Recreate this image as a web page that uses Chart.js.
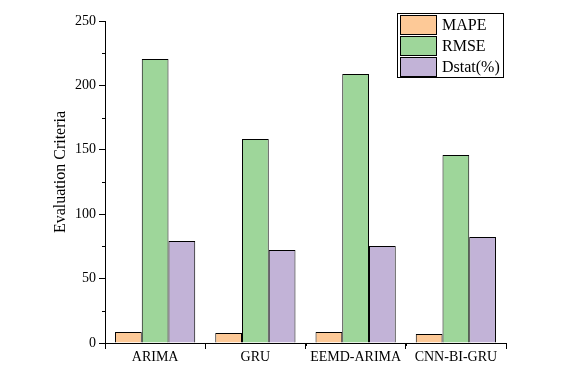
<!DOCTYPE html>
<html>
<head>
<meta charset="utf-8">
<script src="https://cdn.jsdelivr.net/npm/chart.js@4"></script>
<style>
  html, body { margin: 0; padding: 0; background: #fff; }
  #wrap { width: 588px; height: 378px; }
</style>
</head>
<body>
<div id="wrap"><canvas id="plot" width="588" height="378"></canvas></div>
<script>
const models = ['ARIMA', 'GRU', 'EEMD-ARIMA', 'CNN-BI-GRU'];
const mape = [8.5, 7.8, 8.5, 7.0];
const rmse = [220.5, 158.4, 208.8, 146.0];
const dstat = [79.2, 72.2, 75.3, 82.3];
const seriesNames = ['MAPE', 'RMSE', 'Dstat(%)'];
const yTicks = [0, 50, 100, 150, 200, 250];

const colors = ['#fdc997', '#9ed69a', '#c2b3d7'];
const serif = "'Liberation Serif', 'Times New Roman', serif";

// minor ticks, axis title and boxed legend (Origin style)
const extras = {
  id: 'extras',
  afterDraw(chart) {
    const c = chart.ctx;
    const y = chart.scales.y;
    const area = chart.chartArea;
    c.save();
    c.strokeStyle = '#000';
    c.lineWidth = 1;
    c.beginPath();
    for (let v = 25; v < 250; v += 50) {
      const py = Math.round(y.getPixelForValue(v)) + 0.5;
      c.moveTo(area.left - 3, py);
      c.lineTo(area.left, py);
    }
    for (let i = 0; i <= models.length; i++) {
      const px = Math.round(area.left + (area.right - area.left) * i / models.length) + 0.5;
      c.moveTo(px, area.bottom);
      c.lineTo(px, area.bottom + 3);
    }
    c.stroke();

    // y title
    c.fillStyle = '#000';
    c.font = '16px ' + serif;
    c.textAlign = 'center';
    c.textBaseline = 'middle';
    c.translate(61, 172);
    c.rotate(-Math.PI / 2);
    c.fillText('Evaluation Criteria', 0, 0);
    c.restore();

    // legend
    c.save();
    c.strokeStyle = '#000';
    c.lineWidth = 1;
    c.strokeRect(397.5, 13.5, 106, 64);
    c.font = '16px ' + serif;
    c.textBaseline = 'alphabetic';
    c.textAlign = 'left';
    chart.data.datasets.forEach((ds, i) => {
      const top = 15 + i * 21;
      c.fillStyle = ds.backgroundColor;
      c.fillRect(400, top, 36, 19);
      c.strokeRect(400.5, top + 0.5, 36, 19);
      c.fillStyle = '#000';
      c.fillText(ds.label, 442, top + 15);
    });
    c.restore();
  }
};

const data = {
  labels: models,
  datasets: [mape, rmse, dstat].map((vals, i) => ({
    label: seriesNames[i],
    data: vals,
    backgroundColor: colors[i],
    borderColor: '#000',
    borderWidth: 1,
    categoryPercentage: 0.8,
    barPercentage: 1.0
  }))
};

const config = {
  type: 'bar',
  data: data,
  options: {
    responsive: false,
    animation: false,
    layout: { padding: { top: 21, right: 82, left: 0, bottom: 0 } },
    scales: {
      x: {
        grid: { display: true, drawOnChartArea: false, drawTicks: true, tickLength: 6, color: '#000' },
        border: { display: true, color: '#000', width: 1 },
        ticks: { color: '#000', font: { family: serif, size: 14 }, padding: 0, maxRotation: 0 },
        afterFit: s => { s.height = 35; }
      },
      y: {
        min: 0,
        max: 250,
        afterBuildTicks: s => { s.ticks = yTicks.map(v => ({ value: v })); },
        grid: { display: true, drawOnChartArea: false, drawTicks: true, tickLength: 6, color: '#000' },
        border: { display: true, color: '#000', width: 1 },
        ticks: { color: '#000', font: { family: serif, size: 14 }, padding: 3 },
        afterFit: s => { s.width = 105; }
      }
    },
    plugins: {
      legend: { display: false },
      tooltip: { enabled: false }
    }
  },
  plugins: [extras]
};

document.addEventListener('DOMContentLoaded', () => {
  const ctx = document.getElementById('plot').getContext('2d');
  new Chart(ctx, config);
});
</script>
</body>
</html>
